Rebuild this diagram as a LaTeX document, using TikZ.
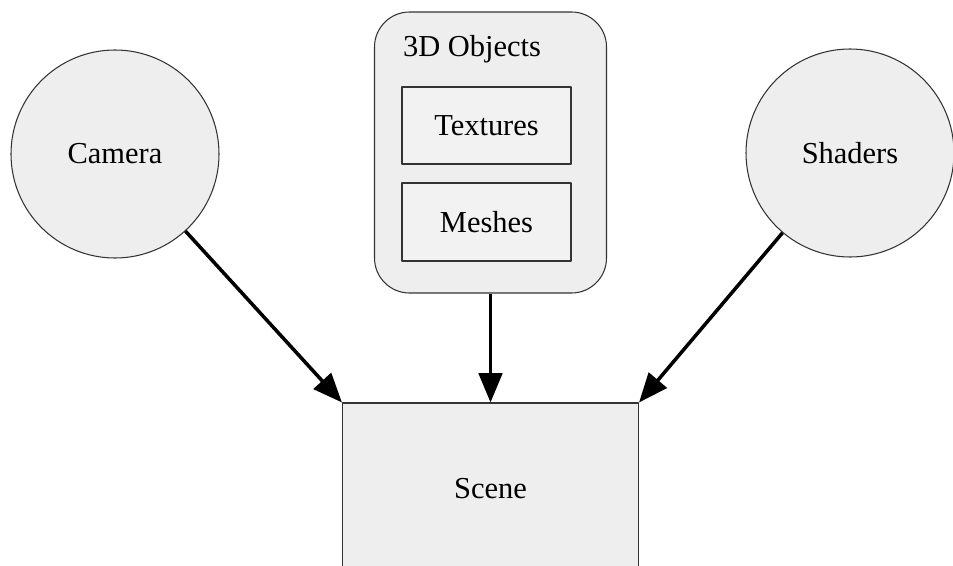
\documentclass[tikz,border=0pt]{standalone}
\usepackage{fontspec}
\setmainfont{Liberation Serif}
\usetikzlibrary{arrows.meta}
\definecolor{boxfill}{HTML}{EEEEEE}
\definecolor{innerfill}{HTML}{F2F2F2}
\definecolor{edgegray}{HTML}{333333}
\begin{document}
\begin{tikzpicture}[x=0.3mm,y=-0.3mm,line join=round,
    every node/.style={font=\fontsize{26}{31}\selectfont,inner sep=0pt},
    ball/.style={circle,draw=edgegray,line width=0.9pt,fill=boxfill,minimum size=208*0.3mm},
    box/.style={rectangle,draw=edgegray,line width=0.9pt,fill=#1},
    feed/.style={line width=3pt,-{Triangle[length=25pt,width=20pt]}}]
    \def\xl{0} \def\xr{953} \def\yt{0} \def\yb{565}
    \clip (\xl,\yt) rectangle (\xr,\yb);
    \node[ball] (camera) at (115,154) {Camera};
    \node[ball] (shaders) at (850,153) {Shaders};
    \node[box=boxfill,rounded corners=10.5mm,minimum width=232*0.3mm,minimum height=281*0.3mm] (objects) at (490.5,152.5) {};
    \node[anchor=base] (objtitle) at (472,56) {3D Objects};
    \node[box=innerfill,minimum width=169*0.3mm,minimum height=77*0.3mm] (textures) at (486.5,125.5) {Textures};
    \node[box=innerfill,minimum width=169*0.3mm,minimum height=78*0.3mm] (meshes) at (486.5,222) {Meshes};
    \node[box=boxfill,minimum width=296*0.3mm,minimum height=172*0.3mm] (scene) at (490.5,489) {Scene};
    \draw[feed] (camera) -- (scene.north west);
    \draw[feed] (objects) -- (scene.north);
    \draw[feed] (shaders) -- (scene.north east);
\end{tikzpicture}
\end{document}
